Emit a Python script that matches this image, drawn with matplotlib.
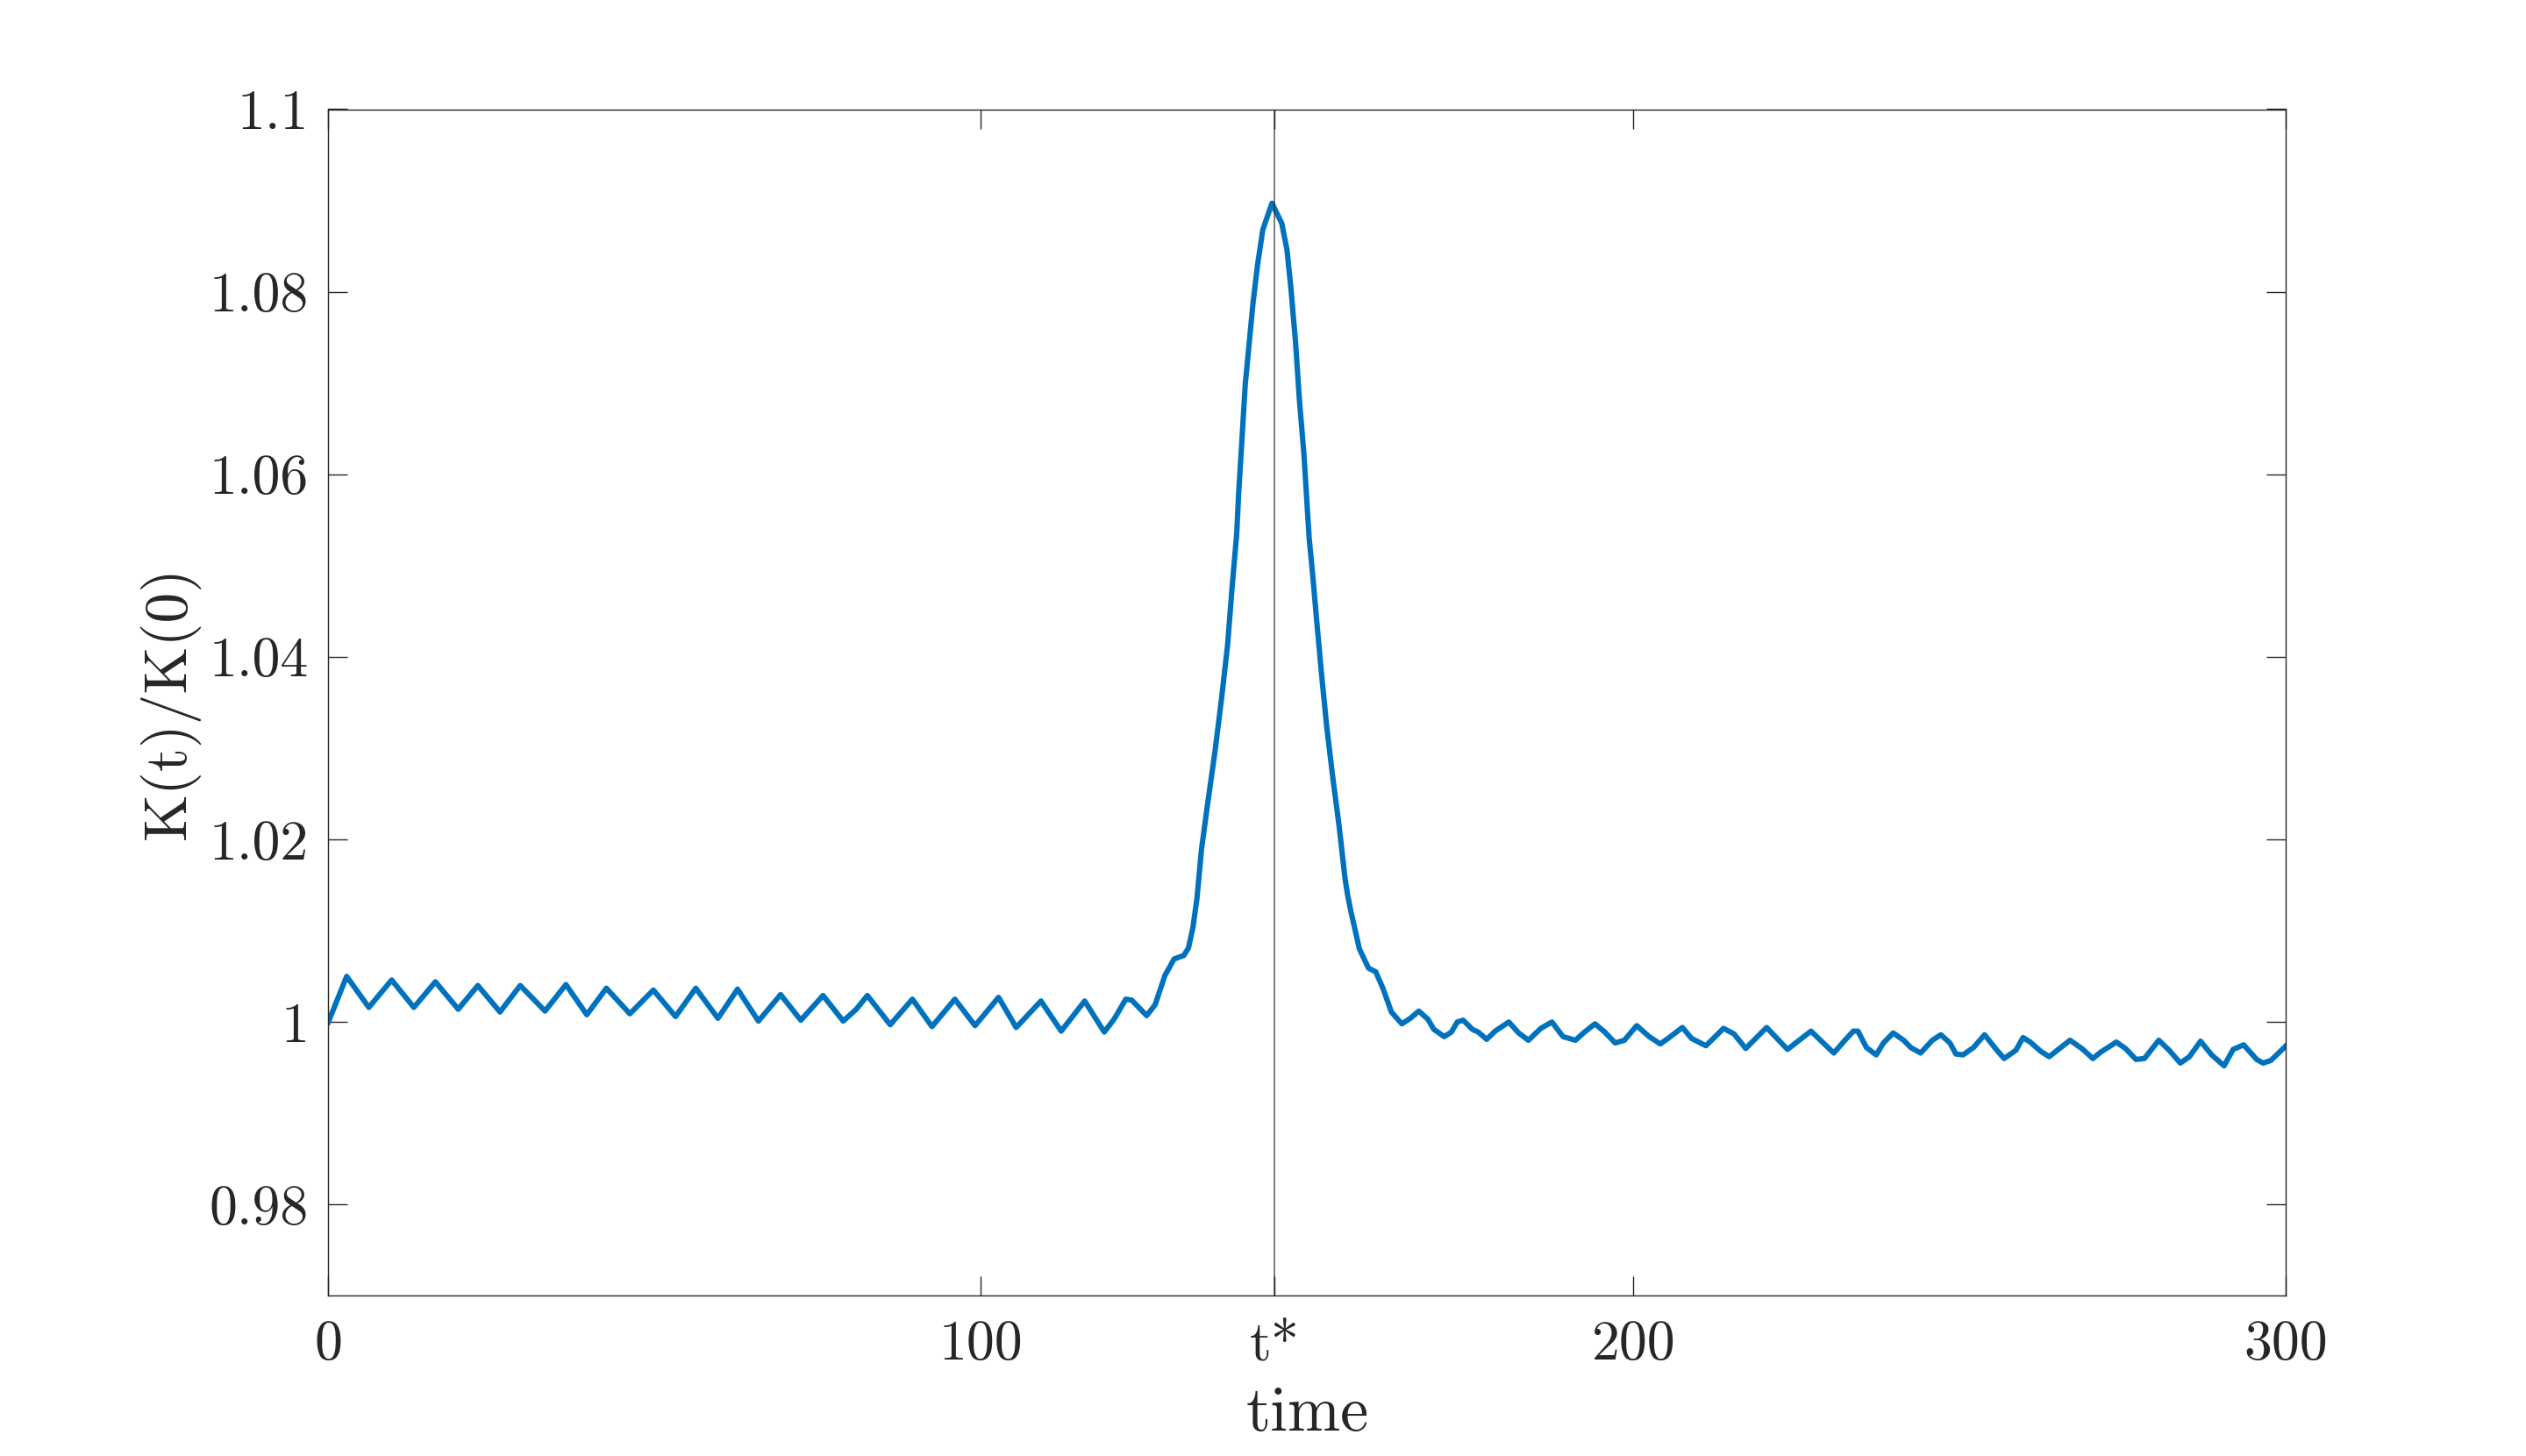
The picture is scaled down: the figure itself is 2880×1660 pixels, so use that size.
import matplotlib
matplotlib.use("Agg")
from matplotlib import pyplot as plt

plt.rcParams['font.family'] = 'serif'
plt.rcParams['font.serif'] = ['cmr10']
plt.rcParams['axes.formatter.use_mathtext'] = True

# time samples and K(t)/K(0)
t = [0.0, 2.8, 6.2, 9.7, 13.1, 16.4, 19.9, 22.9, 26.3, 29.4, 33.2, 36.4, 39.6,
     42.6, 46.2, 49.8, 53.2, 56.3, 59.7, 62.7, 65.9, 69.3, 72.4, 75.8, 78.9,
     80.9, 82.6, 86.1, 89.5, 92.5, 96.0, 99.1, 102.7, 105.4, 109.2, 112.3,
     115.9, 118.9, 120.4, 122.2, 123.1, 125.4, 126.7, 128.2, 129.6, 131.1,
     131.8, 132.5, 133.1, 133.8, 134.7, 135.9, 136.9, 137.8, 138.5, 139.2,
     139.5, 140.0, 140.5, 141.1, 141.7, 142.4, 143.2, 144.6, 146.1, 146.9,
     147.5, 148.2, 148.8, 149.5, 150.3, 150.8, 151.5, 152.2, 153.0, 153.9,
     154.9, 155.8, 156.2, 156.7, 158.0, 159.4, 160.5, 161.6, 162.9, 164.5,
     165.8, 167.1, 168.5, 169.4, 171.0, 172.1, 173.0, 173.9, 175.3, 176.2,
     177.5, 178.8, 180.9, 182.4, 183.9, 185.8, 187.5, 189.2, 191.1, 192.5,
     194.1, 195.6, 197.2, 198.6, 200.5, 202.4, 204.1, 205.3, 207.5, 208.9,
     211.1, 213.8, 215.4, 217.2, 220.4, 223.6, 227.2, 230.7, 232.4, 233.7,
     234.4, 235.7, 237.2, 238.3, 239.8, 241.4, 242.5, 244.0, 245.8, 247.1,
     248.5, 249.4, 250.5, 252.1, 253.8, 255.7, 256.8, 258.6, 259.7, 260.8,
     262.4, 263.7, 265.3, 266.9, 268.7, 270.4, 271.6, 274.0, 275.4, 277.0,
     278.3, 280.5, 282.1, 283.8, 285.2, 286.9, 288.6, 290.5, 291.9, 293.5,
     295.5, 296.5, 297.7, 300.0]
K = [1.0000, 1.0050, 1.0016, 1.0046, 1.0016, 1.0044, 1.0014, 1.0040, 1.0011,
     1.0040, 1.0012, 1.0041, 1.0008, 1.0037, 1.0009, 1.0035, 1.0006, 1.0037,
     1.0004, 1.0036, 1.0001, 1.0030, 1.0002, 1.0029, 1.0001, 1.0014, 1.0029,
     0.9997, 1.0025, 0.9995, 1.0025, 0.9996, 1.0027, 0.9994, 1.0023, 0.9990,
     1.0023, 0.9989, 1.0003, 1.0025, 1.0024, 1.0007, 1.0019, 1.0051, 1.0069,
     1.0073, 1.0081, 1.0104, 1.0135, 1.0189, 1.0237, 1.0298, 1.0356, 1.0413,
     1.0477, 1.0535, 1.0580, 1.0638, 1.0698, 1.0743, 1.0788, 1.0830, 1.0868,
     1.0897, 1.0875, 1.0846, 1.0804, 1.0746, 1.0682, 1.0622, 1.0530, 1.0493,
     1.0436, 1.0381, 1.0323, 1.0269, 1.0214, 1.0157, 1.0139, 1.0121, 1.0080,
     1.0059, 1.0055, 1.0037, 1.0011, 0.9998, 1.0004, 1.0012, 1.0003, 0.9992,
     0.9984, 0.9989, 1.0000, 1.0002, 0.9992, 0.9989, 0.9981, 0.9990, 1.0000,
     0.9988, 0.9980, 0.9993, 1.0000, 0.9984, 0.9980, 0.9989, 0.9998, 0.9989,
     0.9977, 0.9980, 0.9996, 0.9984, 0.9976, 0.9982, 0.9994, 0.9982, 0.9974,
     0.9993, 0.9987, 0.9971, 0.9994, 0.9970, 0.9990, 0.9966, 0.9980, 0.9990,
     0.9990, 0.9972, 0.9964, 0.9977, 0.9988, 0.9980, 0.9972, 0.9966, 0.9980,
     0.9986, 0.9977, 0.9965, 0.9964, 0.9972, 0.9986, 0.9969, 0.9960, 0.9969,
     0.9983, 0.9978, 0.9968, 0.9962, 0.9971, 0.9980, 0.9971, 0.9960, 0.9967,
     0.9978, 0.9971, 0.9959, 0.9960, 0.9980, 0.9969, 0.9955, 0.9962, 0.9979,
     0.9964, 0.9952, 0.9970, 0.9975, 0.9959, 0.9955, 0.9958, 0.9974]

t_star = 145
x_ticks = [0, 100, t_star, 200, 300]
x_tick_labels = ['0', '100', 't*', '200', '300']
y_ticks = [0.98, 1.0, 1.02, 1.04, 1.06, 1.08, 1.1]
y_tick_labels = ['0.98', '1', '1.02', '1.04', '1.06', '1.08', '1.1']

dark = '#262626'

fig = plt.figure(figsize=(14.4, 8.3), dpi=200)
ax = fig.add_axes([0.13, 0.11, 0.775, 0.815])

ax.plot(t, K, color='#0072BD', lw=2.2, solid_joinstyle='round')
ax.axvline(t_star, color=dark, lw=0.6, alpha=0.7)

ax.set_xlim(0, 300)
ax.set_ylim(0.97, 1.1)
ax.set_xticks(x_ticks)
ax.set_xticklabels(x_tick_labels)
ax.set_yticks(y_ticks)
ax.set_yticklabels(y_tick_labels)

ax.tick_params(direction='in', length=8, width=0.5, colors=dark,
               labelsize=23, top=True, right=True)
ax.tick_params(axis='x', pad=10)
ax.tick_params(axis='y', pad=8)
for s in ax.spines.values():
    s.set_color(dark)
    s.set_linewidth(0.5)

ax.set_xlabel('time', fontsize=26, color=dark, labelpad=6)
ax.set_ylabel('K(t)/K(0)', fontsize=25, color=dark, labelpad=4)

fig.savefig('out.png', dpi=200)
